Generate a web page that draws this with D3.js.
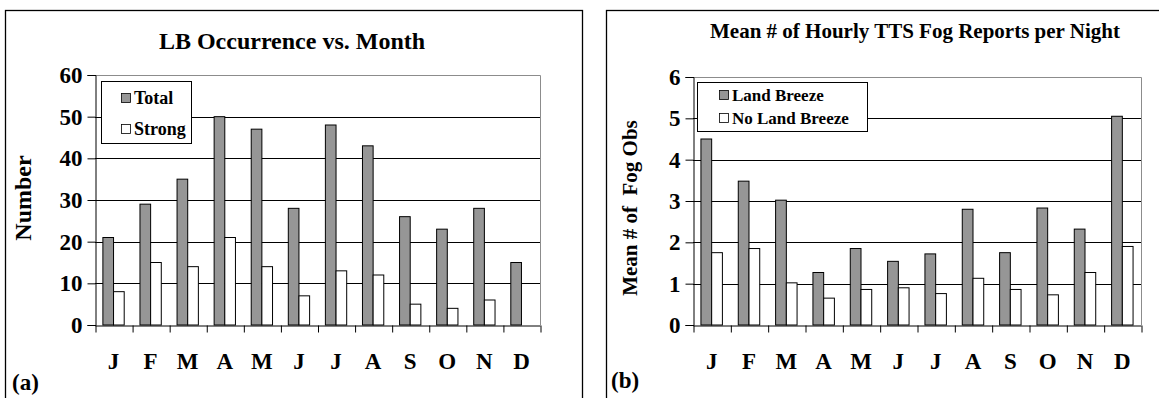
<!DOCTYPE html>
<html>
<head>
<meta charset="utf-8">
<script src="https://cdn.jsdelivr.net/npm/d3@7"></script>
<style>
  body { margin: 0; background: #fff; }
  svg { display: block; font-family: "Liberation Serif", "Times New Roman", serif; font-weight: bold; }
</style>
</head>
<body>
<div class="chart"></div>
<script>
// data
var months = ["J", "F", "M", "A", "M", "J", "J", "A", "S", "O", "N", "D"];

var lbTotal  = [21, 29, 35, 50, 47, 28, 48, 43, 26, 23, 28, 15];
var lbStrong = [8, 15, 14, 21, 14, 7, 13, 12, 5, 4, 6, 0];
var lbTicks  = [0, 10, 20, 30, 40, 50, 60];

var fogLandBreeze   = [4.5, 3.48, 3.02, 1.27, 1.85, 1.54, 1.72, 2.8, 1.75, 2.83, 2.32, 5.05];
var fogNoLandBreeze = [1.75, 1.85, 1.02, 0.65, 0.86, 0.9, 0.76, 1.13, 0.86, 0.73, 1.27, 1.9];
var fogTicks = [0, 1, 2, 3, 4, 5, 6];

var svgWidth = 1159;
var svgHeight = 398;

var svg = d3.select(".chart")
  .append("svg")
  .attr("width", svgWidth)
  .attr("height", svgHeight);

// one panel = one little excel style bar chart
function drawPanel(opt) {
  var g = svg.append("g");

  // outer chart border (runs off the bottom of the picture)
  g.append("rect")
    .attr("x", opt.box[0] + 0.5)
    .attr("y", opt.box[1] + 0.5)
    .attr("width", opt.box[2])
    .attr("height", opt.box[3])
    .attr("fill", "none")
    .attr("stroke", "#000")
    .attr("stroke-width", 1.3);

  var rows = months.map(function (m, i) {
    return { i: i, month: m, a: opt.seriesA[i], b: opt.seriesB[i] };
  });

  var x = d3.scaleBand()
    .domain(d3.range(months.length))
    .range([opt.left, opt.right]);

  var xSub = d3.scaleBand()
    .domain(["a", "b"])
    .range([0, x.bandwidth()])
    .paddingOuter(0.74);

  var xEdge = d3.scaleLinear().domain([0, months.length]).range([opt.left, opt.right]);

  var y = d3.scaleLinear()
    .domain([0, d3.max(opt.ticks)])
    .range([opt.bottom, opt.top]);

  // gridlines
  g.append("g")
    .selectAll("line")
    .data(opt.ticks.slice(1, -1))
    .enter()
    .append("line")
    .attr("x1", opt.left)
    .attr("x2", opt.right)
    .attr("y1", function (d) { return Math.round(y(d)) + 0.5; })
    .attr("y2", function (d) { return Math.round(y(d)) + 0.5; })
    .attr("stroke", "#000");

  // grey plot area frame, top and right
  g.append("path")
    .attr("d", "M" + opt.left + "," + (Math.round(opt.top) + 0.5) +
      "H" + (opt.right + 0.5) + "V" + opt.bottom)
    .attr("fill", "none")
    .attr("stroke", "#8c8c8c");

  // bars
  var bars = g.append("g");
  bars.selectAll(".barA")
    .data(rows)
    .enter()
    .append("rect")
    .attr("class", "barA")
    .attr("x", function (d) { return x(d.i) + xSub("a"); })
    .attr("y", function (d) { return y(d.a); })
    .attr("width", xSub.bandwidth())
    .attr("height", function (d) { return y(0) - y(d.a); })
    .attr("fill", "#969696")
    .attr("stroke", "#000")
    .attr("stroke-width", 1);

  bars.selectAll(".barB")
    .data(rows.filter(function (d) { return d.b > 0; }))
    .enter()
    .append("rect")
    .attr("class", "barB")
    .attr("x", function (d) { return x(d.i) + xSub("b"); })
    .attr("y", function (d) { return y(d.b); })
    .attr("width", xSub.bandwidth())
    .attr("height", function (d) { return y(0) - y(d.b); })
    .attr("fill", "#fff")
    .attr("stroke", "#000")
    .attr("stroke-width", 1);

  // y axis
  var yAxis = d3.axisLeft(y).tickValues(opt.ticks).tickFormat(d3.format("d"))
    .tickSize(8).tickPadding(5);
  var yG = g.append("g")
    .attr("transform", "translate(" + (opt.left + 0.5) + ",0)")
    .call(yAxis)
    .attr("font-family", null)
    .attr("font-size", null);
  yG.selectAll("text")
    .style("font-size", opt.tickFont + "px")
    .attr("fill", "#000");
  yG.select(".domain").attr("stroke", "#000");

  // x axis: ticks sit between the months
  var xG = g.append("g")
    .attr("transform", "translate(0," + (opt.bottom + 0.5) + ")")
    .call(d3.axisBottom(xEdge).tickValues(d3.range(months.length + 1))
      .tickSize(7).tickSizeOuter(0).tickFormat(""));
  xG.selectAll("line").attr("transform", "translate(0.5,0)");

  var labG = g.append("g")
    .attr("transform", "translate(0," + opt.bottom + ")")
    .call(d3.axisBottom(x).tickSize(0).tickPadding(opt.monthPad)
      .tickFormat(function (i) { return months[i]; }))
    .attr("font-family", null)
    .attr("font-size", null);
  labG.select(".domain").remove();
  labG.selectAll("text")
    .style("font-size", opt.monthFont + "px")
    .attr("fill", "#000");

  // titles
  g.append("text")
    .attr("x", opt.titleX)
    .attr("y", opt.titleY)
    .attr("text-anchor", "middle")
    .style("font-size", opt.titleFont + "px")
    .text(opt.title);

  g.append("text")
    .attr("transform", "translate(" + opt.yTitleX + "," + opt.yTitleY + ")rotate(-90)")
    .attr("text-anchor", "middle")
    .style("font-size", opt.yTitleFont + "px")
    .style("white-space", "pre")
    .text(opt.yTitle);

  g.append("text")
    .attr("x", opt.tagX)
    .attr("y", opt.tagY)
    .style("font-size", "23px")
    .text(opt.tag);

  // legend
  var lg = g.append("g");
  lg.append("rect")
    .attr("x", opt.legend[0] + 0.5)
    .attr("y", opt.legend[1] + 0.5)
    .attr("width", opt.legend[2])
    .attr("height", opt.legend[3])
    .attr("fill", "#fff")
    .attr("stroke", "#000");

  var items = [
    { name: opt.names[0], fill: "#969696" },
    { name: opt.names[1], fill: "#fff" }
  ];
  var item = lg.selectAll(".item")
    .data(items)
    .enter()
    .append("g")
    .attr("class", "item")
    .attr("transform", function (d, i) {
      return "translate(" + opt.legend[0] + "," + (opt.legend[1] + opt.legendRow0 + i * opt.legendStep) + ")";
    });
  item.append("rect")
    .attr("x", opt.swatchX + 0.5)
    .attr("y", -10.5)
    .attr("width", 9)
    .attr("height", 9)
    .attr("fill", function (d) { return d.fill; })
    .attr("stroke", "#000")
    .attr("stroke-width", 0.8);
  item.append("text")
    .attr("x", opt.swatchX + 13)
    .attr("y", 0)
    .style("font-size", opt.legendFont + "px")
    .text(function (d) { return d.name; });
}

drawPanel({
  box: [5, 10, 577, 420],
  left: 95, right: 540, top: 75, bottom: 325,
  seriesA: lbTotal, seriesB: lbStrong, ticks: lbTicks,
  names: ["Total", "Strong"],
  title: "LB Occurrence vs. Month", titleX: 292, titleY: 49, titleFont: 24,
  yTitle: "Number", yTitleX: 31, yTitleY: 198, yTitleFont: 24,
  tickFont: 23, monthFont: 23, monthPad: 28,
  tag: "(a)", tagX: 12, tagY: 390,
  legend: [101, 81, 90, 62], legendRow0: 23, legendStep: 31, swatchX: 20, legendFont: 18
});

drawPanel({
  box: [606, 10, 600, 420],
  left: 693, right: 1141, top: 77, bottom: 325,
  seriesA: fogLandBreeze, seriesB: fogNoLandBreeze, ticks: fogTicks,
  names: ["Land Breeze", "No Land Breeze"],
  title: "Mean # of Hourly TTS Fog Reports per Night", titleX: 915, titleY: 38, titleFont: 21,
  yTitle: "Mean # of  Fog Obs", yTitleX: 637, yTitleY: 208, yTitleFont: 21,
  tickFont: 23, monthFont: 23, monthPad: 28,
  tag: "(b)", tagX: 611, tagY: 388,
  legend: [697, 82, 170, 49], legendRow0: 19, legendStep: 23, swatchX: 22, legendFont: 17
});
</script>
</body>
</html>
